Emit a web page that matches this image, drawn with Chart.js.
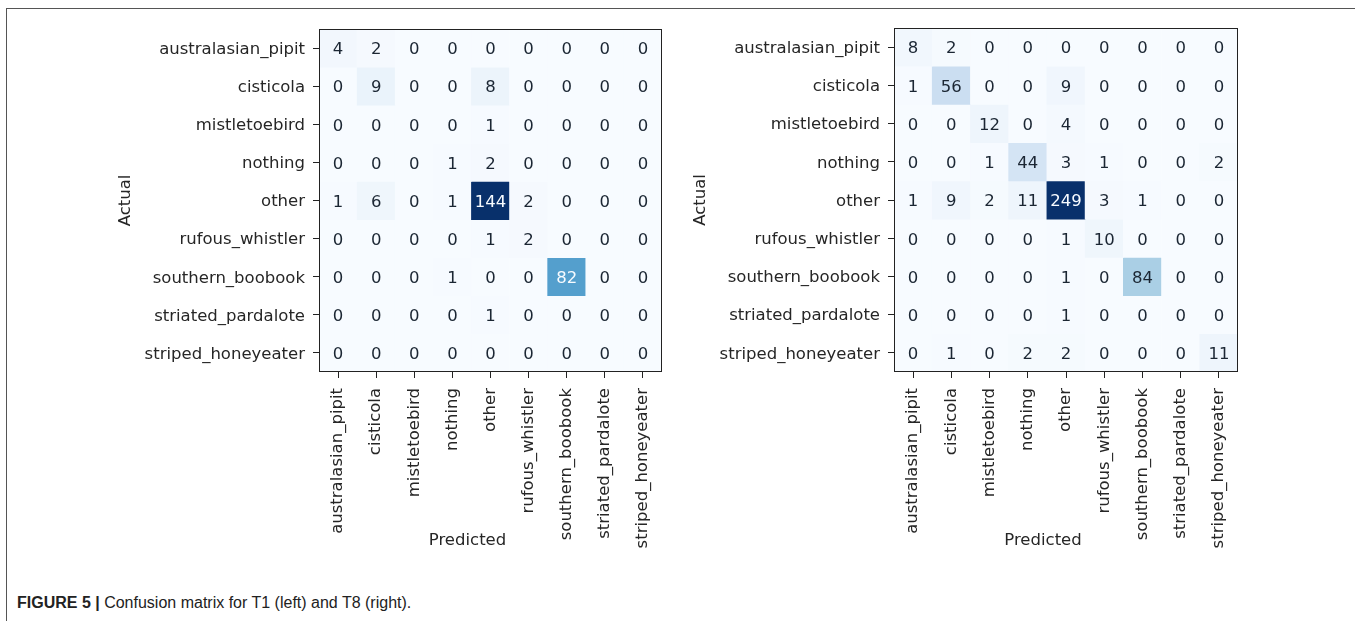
<!DOCTYPE html>
<html>
<head>
<meta charset="utf-8">
<script src="https://cdn.jsdelivr.net/npm/chart.js@4.4.1/dist/chart.umd.min.js"></script>
<style>
  html, body { margin:0; padding:0; background:#fff; width:1355px; height:621px; overflow:hidden; }
  #frame { position:absolute; left:6px; top:8px; width:1500px; height:800px; border:1px solid #555; box-sizing:border-box; }
  canvas { position:absolute; top:0; }
  #c1 { left:100px; }
  #c2 { left:675px; }
  #cap { position:absolute; left:17px; top:594px; font-family:'Liberation Sans Narrow','Liberation Sans',Arial,sans-serif; font-size:16px; color:#222; white-space:nowrap; }
  #cap b { font-weight:bold; }
</style>
</head>
<body>
<div id="frame"></div>
<canvas id="c1" width="600" height="580"></canvas>
<canvas id="c2" width="600" height="580"></canvas>
<div id="cap"><b>FIGURE 5 |</b> Confusion matrix for T1 (left) and T8 (right).</div>
<script>
// ---------- data ----------
const actualLabels = ['australasian_pipit','cisticola','mistletoebird','nothing','other','rufous_whistler','southern_boobook','striated_pardalote','striped_honeyeater'];
const predictedLabels = ['australasian_pipit','cisticola','mistletoebird','nothing','other','rufous_whistler','southern_boobook','striated_pardalote','striped_honeyeater'];

// T1 (left) — rows = actual, columns = predicted
const t1_australasian_pipit = [4, 2, 0, 0, 0, 0, 0, 0, 0];
const t1_cisticola          = [0, 9, 0, 0, 8, 0, 0, 0, 0];
const t1_mistletoebird      = [0, 0, 0, 0, 1, 0, 0, 0, 0];
const t1_nothing            = [0, 0, 0, 1, 2, 0, 0, 0, 0];
const t1_other              = [1, 6, 0, 1, 144, 2, 0, 0, 0];
const t1_rufous_whistler    = [0, 0, 0, 0, 1, 2, 0, 0, 0];
const t1_southern_boobook   = [0, 0, 0, 1, 0, 0, 82, 0, 0];
const t1_striated_pardalote = [0, 0, 0, 0, 1, 0, 0, 0, 0];
const t1_striped_honeyeater = [0, 0, 0, 0, 0, 0, 0, 0, 0];

// T8 (right)
const t8_australasian_pipit = [8, 2, 0, 0, 0, 0, 0, 0, 0];
const t8_cisticola          = [1, 56, 0, 0, 9, 0, 0, 0, 0];
const t8_mistletoebird      = [0, 0, 12, 0, 4, 0, 0, 0, 0];
const t8_nothing            = [0, 0, 1, 44, 3, 1, 0, 0, 2];
const t8_other              = [1, 9, 2, 11, 249, 3, 1, 0, 0];
const t8_rufous_whistler    = [0, 0, 0, 0, 1, 10, 0, 0, 0];
const t8_southern_boobook   = [0, 0, 0, 0, 1, 0, 84, 0, 0];
const t8_striated_pardalote = [0, 0, 0, 0, 1, 0, 0, 0, 0];
const t8_striped_honeyeater = [0, 1, 0, 2, 2, 0, 0, 0, 11];

const t1Rows = [t1_australasian_pipit, t1_cisticola, t1_mistletoebird, t1_nothing, t1_other, t1_rufous_whistler, t1_southern_boobook, t1_striated_pardalote, t1_striped_honeyeater];
const t8Rows = [t8_australasian_pipit, t8_cisticola, t8_mistletoebird, t8_nothing, t8_other, t8_rufous_whistler, t8_southern_boobook, t8_striated_pardalote, t8_striped_honeyeater];

// ---------- colormap (matplotlib "Blues") ----------
const bluesStops = ['#f7fbff','#deebf7','#c6dbef','#9ecae1','#6baed6','#4292c6','#2171b5','#08519c','#08306b'];
function hexToRgb(h){ return [parseInt(h.slice(1,3),16), parseInt(h.slice(3,5),16), parseInt(h.slice(5,7),16)]; }
function blues(t){
  t = Math.max(0, Math.min(1, t));
  const idx = Math.min(255, Math.floor(t*256));
  const tt = idx/255;
  const pos = tt*(bluesStops.length-1);
  const i = Math.min(bluesStops.length-2, Math.floor(pos));
  const f = pos - i;
  const a = hexToRgb(bluesStops[i]), b = hexToRgb(bluesStops[i+1]);
  const c = a.map((v,k)=>Math.round(v + (b[k]-v)*f));
  return 'rgb(' + c.join(',') + ')';
}

Chart.defaults.font.family = "'DejaVu Sans', sans-serif";
Chart.defaults.font.size = 16.5;
Chart.defaults.color = '#262626';

const cellPlugin = {
  id: 'cellText',
  afterDatasetsDraw(chart, args, opts) {
    const ctx = chart.ctx;
    const rows = opts.rows;
    let mx = -Infinity, mn = Infinity;
    rows.forEach(r => r.forEach(v => { mx = Math.max(mx, v); mn = Math.min(mn, v); }));
    const thresh = (mx + mn) / 2;
    ctx.save();
    ctx.font = "16.5px 'DejaVu Sans', sans-serif";
    ctx.textAlign = 'center';
    ctx.textBaseline = 'middle';
    rows.forEach((row, r) => {
      const meta = chart.getDatasetMeta(r);
      meta.data.forEach((el, c) => {
        const v = row[c];
        ctx.fillStyle = v < thresh ? '#1b2633' : '#f7fbff';
        ctx.fillText(String(v), el.x, (el.y + el.base) / 2 + 2);
      });
    });
    const a = chart.chartArea;
    ctx.strokeStyle = '#222';
    ctx.lineWidth = 1;
    ctx.strokeRect(Math.round(a.left) + 0.5, Math.round(a.top) + 0.5, Math.round(a.right - a.left) - 1, Math.round(a.bottom - a.top) - 1);
    // x-axis title
    ctx.fillStyle = '#262626';
    ctx.fillText(opts.xTitle, (a.left + a.right) / 2 - 23, a.bottom + 169);
    ctx.restore();
  }
};

function makeChart(id, rows, padTop, padRight) {
  const mx = Math.max(...rows.map(r => Math.max(...r)));
  const datasets = rows.map((row, r) => ({
    label: actualLabels[r],
    data: row.map(() => [r - 0.5, r + 0.5]),
    backgroundColor: row.map(v => blues(v / mx)),
    borderWidth: 0,
    grouped: false,
    barPercentage: 1,
    categoryPercentage: 1
  }));
  return new Chart(document.getElementById(id), {
    type: 'bar',
    data: { labels: predictedLabels, datasets },
    options: {
      responsive: false,
      animation: false,
      layout: { padding: { top: padTop, right: padRight, bottom: 8, left: 0 } },
      plugins: {
        legend: { display: false },
        tooltip: { enabled: false },
        cellText: { rows, xTitle: 'Predicted' }
      },
      scales: {
        x: {
          type: 'category',
          offset: true,
          grid: { display: true, drawOnChartArea: false, offset: false, tickLength: 6, tickColor: '#222', tickWidth: 1 },
          border: { display: false },
          ticks: { autoSkip: false, minRotation: 90, maxRotation: 90, padding: 10, color: '#262626' },
          afterFit: s => { s.height = 200; }
        },
        y: {
          type: 'linear',
          min: -0.5,
          max: 8.5,
          reverse: true,
          grid: { display: true, drawOnChartArea: false, tickLength: 6, tickColor: '#222', tickWidth: 1 },
          border: { display: false },
          afterBuildTicks: s => { s.ticks = actualLabels.map((_, i) => ({ value: i })); },
          ticks: { padding: 8, labelOffset: 1.5, color: '#262626', callback: v => actualLabels[v] },
          title: { display: true, text: 'Actual', padding: { top: 16, bottom: 0 }, color: '#262626' },
          afterFit: s => { s.width = 219; }
        }
      }
    },
    plugins: [cellPlugin]
  });
}

makeChart('c1', t1Rows, 29, 38);
makeChart('c2', t8Rows, 28, 37);
</script>
</body>
</html>
